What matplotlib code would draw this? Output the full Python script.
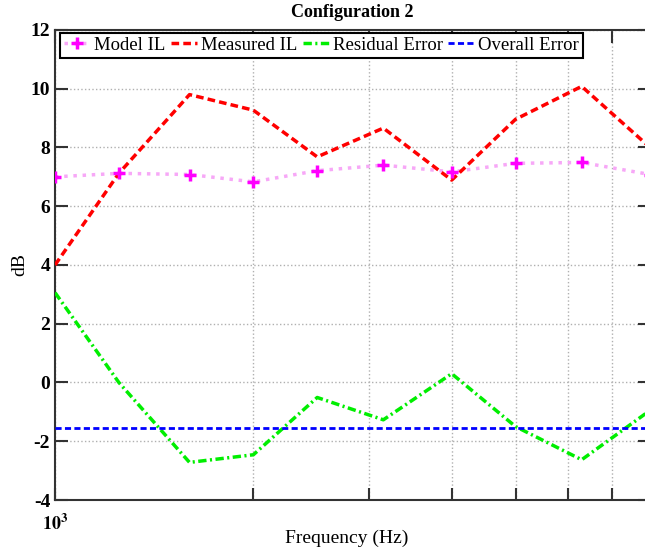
import numpy as np
import matplotlib.pyplot as plt
from matplotlib.ticker import FixedLocator, NullFormatter

# One-third octave band centre frequencies (Hz)
freq = [1000, 1250, 1600, 2000, 2500, 3150, 4000, 5000, 6300, 8000]

# Insertion loss values (dB)
model_il = [7.00, 7.12, 7.08, 6.83, 7.21, 7.40, 7.17, 7.46, 7.49, 7.08]
measured_il = [4.00, 7.12, 9.80, 9.27, 7.68, 8.66, 6.89, 8.96, 10.08, 8.00]
residual_err = [3.06, 0.00, -2.72, -2.46, -0.51, -1.27, 0.30, -1.50, -2.63, -0.95]
overall_err = -1.54

plt.rcParams['font.family'] = ['Liberation Serif', 'DejaVu Serif']
plt.rcParams['mathtext.fontset'] = 'stix'
plt.rcParams['axes.unicode_minus'] = False

fig = plt.figure(figsize=(6.45, 5.52), dpi=100)
ax = fig.add_axes([0.0853, 0.0942, 0.9225, 0.8515])

ax.plot(freq, model_il, color='#f7a8f7', ls=':', lw=2.5, zorder=3)
ax.plot(freq, model_il, ls='none', marker='+', ms=8, mew=2.5, color='#ff00ff', zorder=4)
h_model, = ax.plot([], [], color='#f7a8f7', ls=':', lw=2.5, marker='+', ms=8, mew=2.5,
                   mec='#ff00ff', label='Model IL')
ax.plot(freq, measured_il, color='#ff0000', ls=(0, (2.2, 1.2)), lw=2.5,
        label='Measured IL', zorder=3)
ax.plot(freq, residual_err, color='#00ee00', ls=(0, (2.4, 1.0, 0.6, 1.0)), lw=2.5,
        label='Residual Error', zorder=3)
ax.plot([freq[0], freq[-1]], [overall_err, overall_err], color='#0000ff',
        ls=(0, (2.2, 1.2)), lw=2, label='Overall Error', zorder=3)

ax.set_xscale('log')
ax.set_xlim(1000, 8000)
ax.set_ylim(-4, 12)
ax.set_yticks(np.arange(-4, 13, 2))
ax.xaxis.set_major_locator(FixedLocator([1000]))
ax.xaxis.set_minor_locator(FixedLocator([2000, 3000, 4000, 5000, 6000, 7000]))
ax.xaxis.set_minor_formatter(NullFormatter())
ax.set_xticklabels([r'$\mathbf{10^3}$'])

ax.grid(True, which='both', color='#b0b0b0', ls=':', lw=1)
ax.tick_params(which='both', direction='in', top=True, right=True, length=9, width=1.5,
               color='#333333', labelsize=14)
for lbl in ax.get_yticklabels():
    lbl.set_fontweight('bold')
ax.tick_params(axis='x', labelsize=13, pad=10)
for sp in ax.spines.values():
    sp.set_color('#333333')
    sp.set_linewidth(1.5)

ax.set_title('Configuration 2', fontsize=13, fontweight='bold', pad=9)
ax.set_xlabel('Frequency (Hz)', fontsize=14)
ax.xaxis.set_label_coords(0.49, -0.063)
ax.set_ylabel('dB', fontsize=14)
ax.yaxis.set_label_coords(-0.045, 0.5)

handles, labels = ax.get_legend_handles_labels()
leg = ax.legend(handles, labels, loc='upper left', bbox_to_anchor=(0.0084, 0.9936),
                borderaxespad=0, ncol=4, fontsize=13.5, handlelength=1.4, handletextpad=0.2,
                columnspacing=0.3, fancybox=False, framealpha=1, edgecolor='black',
                borderpad=0.2)
leg.get_frame().set_linewidth(1.5)

fig.savefig('out.png', dpi=100)
